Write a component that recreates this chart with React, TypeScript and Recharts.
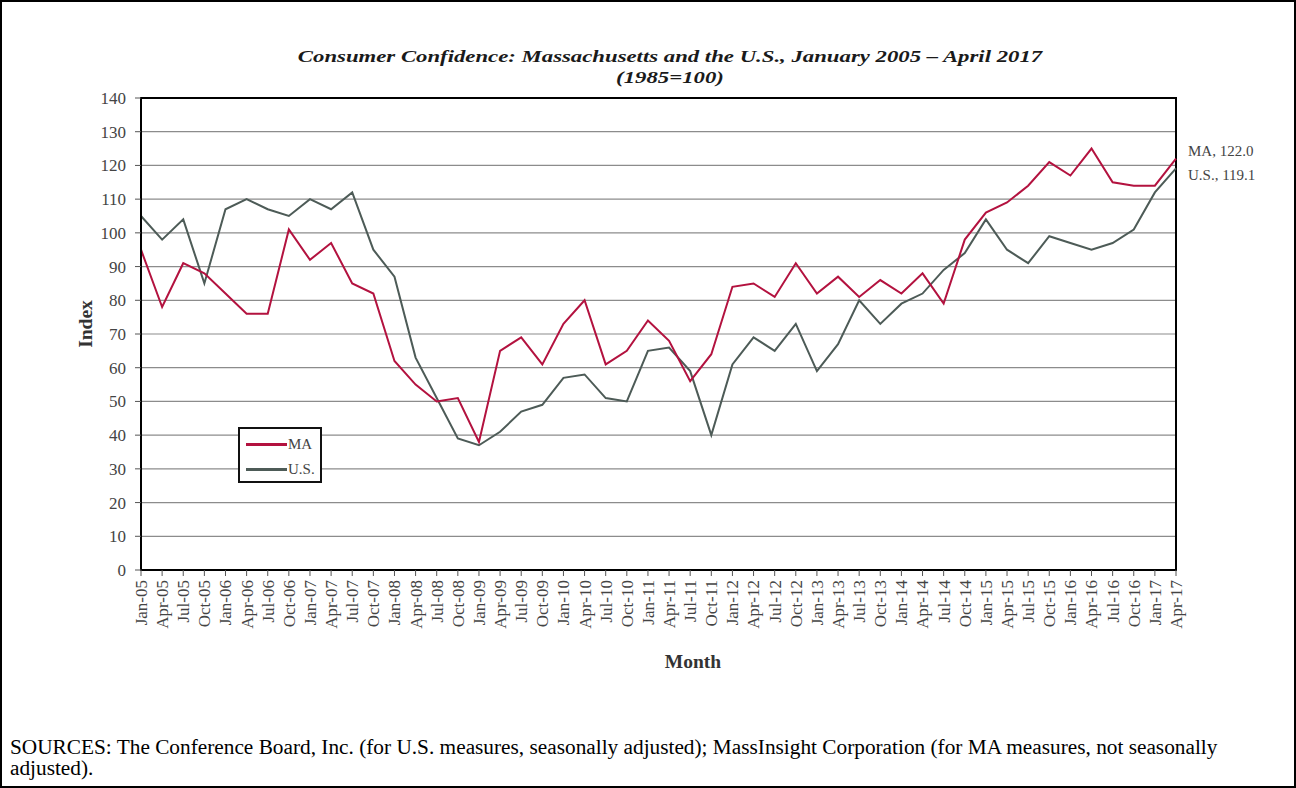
import React from 'react';
import { LineChart, Line, XAxis, YAxis, CartesianGrid, ReferenceArea } from 'recharts';

const months = [
  'Jan-05', 'Apr-05', 'Jul-05', 'Oct-05', 'Jan-06', 'Apr-06', 'Jul-06', 'Oct-06',
  'Jan-07', 'Apr-07', 'Jul-07', 'Oct-07', 'Jan-08', 'Apr-08', 'Jul-08', 'Oct-08',
  'Jan-09', 'Apr-09', 'Jul-09', 'Oct-09', 'Jan-10', 'Apr-10', 'Jul-10', 'Oct-10',
  'Jan-11', 'Apr-11', 'Jul-11', 'Oct-11', 'Jan-12', 'Apr-12', 'Jul-12', 'Oct-12',
  'Jan-13', 'Apr-13', 'Jul-13', 'Oct-13', 'Jan-14', 'Apr-14', 'Jul-14', 'Oct-14',
  'Jan-15', 'Apr-15', 'Jul-15', 'Oct-15', 'Jan-16', 'Apr-16', 'Jul-16', 'Oct-16',
  'Jan-17', 'Apr-17',
];

const maValues = [
  95, 78, 91, 88, 82, 76, 76, 101, 92, 97, 85, 82, 62, 55, 50, 51,
  38, 65, 69, 61, 73, 80, 61, 65, 74, 68, 56, 64, 84, 85, 81, 91,
  82, 87, 81, 86, 82, 88, 79, 98, 106, 109, 114, 121, 117, 125, 115, 114,
  114, 122.0,
];

const usValues = [
  105, 98, 104, 85, 107, 110, 107, 105, 110, 107, 112, 95, 87, 63, 51, 39,
  37, 41, 47, 49, 57, 58, 51, 50, 65, 66, 59, 40, 61, 69, 65, 73,
  59, 67, 80, 73, 79, 82, 89, 94, 104, 95, 91, 99, 97, 95, 97, 101,
  112, 119.1,
];

const yTicks = [0, 10, 20, 30, 40, 50, 60, 70, 80, 90, 100, 110, 120, 130, 140];

const data = months.map((m, i) => ({ month: m, MA: maValues[i], US: usValues[i] }));

const MA_COLOR = '#b3123f';
const US_COLOR = '#4d5b57';
const SERIF = '"Liberation Serif", "Times New Roman", serif';

const MonthTick = ({ x, y, payload }: any) => (
  <text
    x={x}
    y={y + 2}
    transform={`rotate(-90, ${x}, ${y + 2})`}
    textAnchor="end"
    dy="0.35em"
    fontFamily={SERIF}
    fontSize={17}
    fill="#444"
  >
    {payload.value}
  </text>
);

const endLabel = (name: string, dy: number) => (props: any) => {
  const { x, y, index, value } = props;
  if (index !== data.length - 1) return null;
  return (
    <text x={x + 12} y={y + dy} dy="0.35em" fontFamily={SERIF} fontSize={15} fill="#444">
      {`${name}, ${Number(value).toFixed(1)}`}
    </text>
  );
};

const legendItems = [
  { label: 'MA', color: MA_COLOR },
  { label: 'U.S.', color: US_COLOR },
];

export default function App() {
  return (
    <div style={{ position: 'absolute', left: 0, top: 0, width: 1296, height: 788, background: '#fff' }}>
      <div
        style={{
          position: 'absolute',
          left: 0,
          top: 0,
          width: 1296,
          height: 788,
          border: '2px solid #000',
          boxSizing: 'border-box',
          pointerEvents: 'none',
          zIndex: 2,
        }}
      />
      <div
        style={{
          position: 'absolute',
          left: 270,
          width: 800,
          top: 46,
          textAlign: 'center',
          fontFamily: SERIF,
          fontWeight: 'bold',
          fontStyle: 'italic',
          fontSize: 17.5,
          lineHeight: '21px',
          color: '#1a1a1a',
          transform: 'scaleX(1.3)',
          transformOrigin: '400px 0',
        }}
      >
        Consumer Confidence: Massachusetts and the U.S., January 2005 – April 2017
        <br />
        (1985=100)
      </div>
      <div style={{ position: 'absolute', left: 0, top: 0 }}>
        <LineChart width={1296} height={705} data={data} margin={{ top: 98, right: 120, left: 81, bottom: 55 }}>
          <CartesianGrid horizontal vertical={false} stroke="#8c8c8c" strokeWidth={1.2} />
          <XAxis
            dataKey="month"
            interval={0}
            height={80}
            tick={<MonthTick />}
            tickSize={6}
            axisLine={{ stroke: '#000', strokeWidth: 2 }}
            tickLine={{ stroke: '#555' }}
            label={() => (
              <text
                x={693}
                y={661}
                textAnchor="middle"
                dy="0.35em"
                fontFamily={SERIF}
                fontWeight="bold"
                fontSize={19.5}
                fill="#333"
              >
                Month
              </text>
            )}
          />
          <YAxis
            domain={[0, 140]}
            ticks={yTicks}
            interval={0}
            width={60}
            tickSize={6}
            tickMargin={9}
            tick={{ fontFamily: SERIF, fontSize: 17, fill: '#444' }}
            axisLine={{ stroke: '#000', strokeWidth: 2 }}
            tickLine={{ stroke: '#555' }}
            label={(props: any) => {
              const vb = props.viewBox;
              const cx = 85;
              const cy = vb.y + vb.height / 2 - 10;
              return (
                <text
                  x={cx}
                  y={cy}
                  transform={`rotate(-90, ${cx}, ${cy})`}
                  textAnchor="middle"
                  dy="0.35em"
                  fontFamily={SERIF}
                  fontWeight="bold"
                  fontSize={19.5}
                  fill="#333"
                >
                  Index
                </text>
              );
            }}
          />
          <ReferenceArea x1="Jan-05" x2="Apr-17" y1={0} y2={140} fill="none" stroke="#000" strokeWidth={2} />
          <Line
            dataKey="US"
            name="U.S."
            stroke={US_COLOR}
            strokeWidth={2}
            dot={false}
            isAnimationActive={false}
            label={endLabel('U.S.', 6)}
          />
          <Line
            dataKey="MA"
            name="MA"
            stroke={MA_COLOR}
            strokeWidth={2}
            dot={false}
            isAnimationActive={false}
            label={endLabel('MA', -8)}
          />
        </LineChart>
      </div>
      <div
        style={{
          position: 'absolute',
          left: 238,
          top: 427,
          width: 84,
          height: 56,
          border: '2px solid #111',
          background: '#fff',
          fontFamily: SERIF,
          fontSize: 15,
          color: '#444',
          boxSizing: 'border-box',
          paddingTop: 3,
        }}
      >
        {legendItems.map((it) => (
          <div key={it.label} style={{ display: 'flex', alignItems: 'center', height: 25 }}>
            <span style={{ display: 'inline-block', width: 41, height: 3, background: it.color, marginLeft: 6 }} />
            <span style={{ marginLeft: 1 }}>{it.label}</span>
          </div>
        ))}
      </div>
      <div
        style={{
          position: 'absolute',
          left: 10,
          top: 737,
          width: 1240,
          fontFamily: SERIF,
          fontSize: 21.3,
          lineHeight: '21px',
          color: '#000',
        }}
      >
        SOURCES: The Conference Board, Inc. (for U.S. measures, seasonally adjusted); MassInsight Corporation (for MA measures, not seasonally adjusted).
      </div>
    </div>
  );
}
